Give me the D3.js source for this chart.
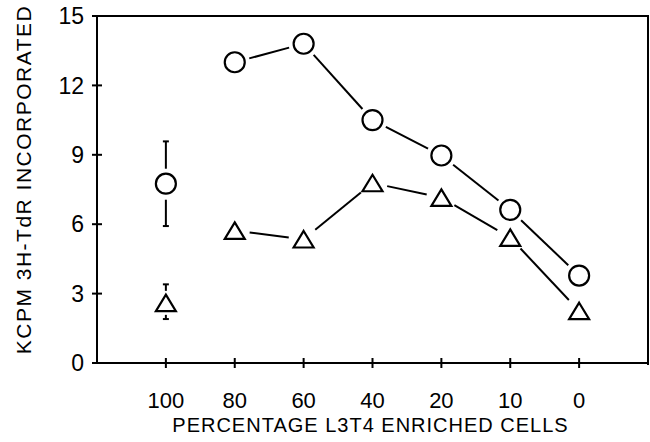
<!DOCTYPE html>
<html>
<head>
<meta charset="utf-8">
<script src="https://cdn.jsdelivr.net/npm/d3@7"></script>
<style>
  body { margin: 0; background: #fff; }
  svg text { font-family: "Liberation Sans", Arial, Helvetica, sans-serif; fill: #000; }
</style>
</head>
<body>
<div id="chart"></div>
<script>
// x categories (percentage of L3T4 enriched cells), left to right
const categories = ['100', '80', '60', '40', '20', '10', '0']
const yTicks = [0, 3, 6, 9, 12, 15]

// circles: connected series 80 -> 0, plus separate point at 100 with error bar
const circleValues = [null, 13.0, 13.8, 10.5, 8.97, 6.62, 3.78]
const triangleValues = [null, 5.72, 5.35, 7.78, 7.15, 5.42, 2.25]

const circleAt100 = { value: 7.75, low: 5.92, high: 9.58 }
const triangleAt100 = { value: 2.6, low: 1.9, high: 3.4 }

const width = 650, height = 442
const margin = { top: 16, right: 2, bottom: 79, left: 97 }

const svg = d3.select('#chart').append('svg')
    .attr('width', width)
    .attr('height', height)

// categories sit at index 0..6, axis runs from index -1 to 7
const x = d3.scaleLinear()
    .domain([-1, categories.length])
    .range([margin.left, width - margin.right])

const y = d3.scaleLinear()
    .domain([0, 15])
    .range([height - margin.bottom, margin.top])

const x0 = margin.left, x1 = width - margin.right
const yBottom = y(0), yTop = y(15)

// frame: top and right lines
svg.append('path')
    .attr('d', `M${x0 - 4},${yTop} H${x1} V${yBottom + 2}`)
    .attr('fill', 'none').attr('stroke', '#000').attr('stroke-width', 2)

// y axis
const yAxis = svg.append('g')
yAxis.append('line')
    .attr('x1', x0).attr('x2', x0).attr('y1', yTop).attr('y2', yBottom)
    .attr('stroke', '#000').attr('stroke-width', 2)
yAxis.selectAll('.ytick')
    .data(yTicks)
    .enter().append('line')
    .attr('x1', x0 - 5).attr('x2', x0 + 5)
    .attr('y1', d => y(d)).attr('y2', d => y(d))
    .attr('stroke', '#000').attr('stroke-width', 2)
yAxis.selectAll('.ylabel')
    .data(yTicks)
    .enter().append('text')
    .attr('x', x0 - 13)
    .attr('y', d => y(d))
    .attr('dy', '0.36em')
    .attr('text-anchor', 'end')
    .attr('font-size', 23)
    .text(d => d)

// x axis
const xAxis = svg.append('g')
xAxis.append('line')
    .attr('x1', x0).attr('x2', x1).attr('y1', yBottom).attr('y2', yBottom)
    .attr('stroke', '#000').attr('stroke-width', 2)
xAxis.selectAll('.xtick')
    .data(categories)
    .enter().append('line')
    .attr('x1', (_, i) => x(i)).attr('x2', (_, i) => x(i))
    .attr('y1', yBottom - 5).attr('y2', yBottom + 5)
    .attr('stroke', '#000').attr('stroke-width', 2)
xAxis.selectAll('.xlabel')
    .data(categories)
    .enter().append('text')
    .attr('x', (_, i) => x(i))
    .attr('y', 408)
    .attr('text-anchor', 'middle')
    .attr('font-size', 22)
    .text(d => d)

// axis titles
svg.append('text')
    .attr('x', (x0 + x1) / 2 - 2)
    .attr('y', 432)
    .attr('text-anchor', 'middle')
    .attr('font-size', 20)
    .attr('letter-spacing', 1)
    .text('PERCENTAGE L3T4 ENRICHED CELLS')

svg.append('text')
    .attr('transform', `translate(31,${(yTop + yBottom) / 2 - 10}) rotate(-90)`)
    .attr('text-anchor', 'middle')
    .attr('font-size', 21)
    .attr('letter-spacing', 1.5)
    .text('KCPM 3H-TdR INCORPORATED')

// connecting lines with gaps around markers
const gap = 15
function drawSeries(values) {
  const pts = values
    .map((v, i) => v == null ? null : [x(i), y(v)])
    .filter(p => p)
  const segs = d3.pairs(pts)
  svg.append('g').selectAll('line')
    .data(segs)
    .enter().append('line')
    .each(function([a, b]) {
      const dx = b[0] - a[0], dy = b[1] - a[1]
      const len = Math.sqrt(dx * dx + dy * dy)
      const ux = dx / len, uy = dy / len
      d3.select(this)
        .attr('x1', a[0] + ux * gap).attr('y1', a[1] + uy * gap)
        .attr('x2', b[0] - ux * gap).attr('y2', b[1] - uy * gap)
    })
    .attr('stroke', '#000').attr('stroke-width', 2)
  return pts
}

const circlePts = drawSeries(circleValues)
const trianglePts = drawSeries(triangleValues)

// error bars at 100
function errorBar(cx, e, gapTop, gapBottom) {
  const g = svg.append('g').attr('stroke', '#000').attr('stroke-width', 2)
  const cy = y(e.value)
  g.append('line').attr('x1', cx).attr('x2', cx).attr('y1', y(e.high)).attr('y2', cy - gapTop)
  g.append('line').attr('x1', cx).attr('x2', cx).attr('y1', cy + gapBottom).attr('y2', y(e.low))
  g.append('line').attr('x1', cx - 3).attr('x2', cx + 3).attr('y1', y(e.high)).attr('y2', y(e.high))
  g.append('line').attr('x1', cx - 3).attr('x2', cx + 3).attr('y1', y(e.low)).attr('y2', y(e.low))
}
errorBar(x(0), circleAt100, 15, 16)
errorBar(x(0), triangleAt100, 12, 12)

// markers
const r = 10
svg.append('g').selectAll('circle')
    .data(circlePts.concat([[x(0), y(circleAt100.value)]]))
    .enter().append('circle')
    .attr('cx', d => d[0]).attr('cy', d => d[1]).attr('r', r)
    .attr('fill', '#fff').attr('stroke', '#000').attr('stroke-width', 2.2)

const tw = 20, th = 16.5
svg.append('g').selectAll('path')
    .data(trianglePts.concat([[x(0), y(triangleAt100.value)]]))
    .enter().append('path')
    .attr('d', d => `M${d[0]},${d[1] - th / 2} L${d[0] + tw / 2},${d[1] + th / 2} L${d[0] - tw / 2},${d[1] + th / 2} Z`)
    .attr('fill', '#fff').attr('stroke', '#000').attr('stroke-width', 2.2)
    .attr('stroke-linejoin', 'miter')
</script>
</body>
</html>
